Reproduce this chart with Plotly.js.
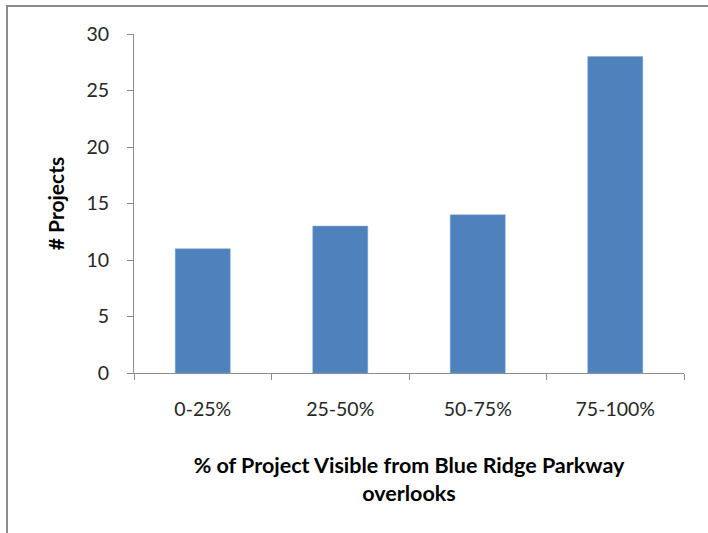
<!DOCTYPE html>
<html><head><meta charset="utf-8">
<script src="https://cdn.plot.ly/plotly-3.0.1.min.js"></script>
<style>
html,body{margin:0;padding:0;background:#fff;}
#wrap{position:relative;width:708px;height:533px;overflow:hidden;}
#chart{position:absolute;left:0;top:0;width:708px;height:533px;}
#frame{position:absolute;left:6px;top:5px;width:760px;height:600px;border-left:2px solid #8c8c8c;border-top:2px solid #8c8c8c;pointer-events:none;}
</style></head>
<body>
<div id="wrap"><div id="chart"></div><div id="frame"></div></div>
<script>
const categories = ["0-25%", "25-50%", "50-75%", "75-100%"];
const projects = [11, 13, 14, 28];
const yTicks = [0, 5, 10, 15, 20, 25, 30];
const xTitle = "% of Project Visible from Blue Ridge Parkway<br>overlooks";
const yTitle = "# Projects";

const font = "Lato, 'Open Sans', sans-serif";
Plotly.newPlot("chart", [{
  type: "bar",
  x: categories,
  y: projects,
  marker: {color: "#4f81bd", line: {color: "#7fa5d6", width: 0.5}},
  hoverinfo: "skip"
}], {
  width: 708, height: 533,
  margin: {l: 134, r: 24, t: 34, b: 160},
  paper_bgcolor: "#fff", plot_bgcolor: "#fff",
  bargap: 0.6,
  showlegend: false,
  font: {family: font, color: "#262626", size: 16},
  xaxis: {
    type: "category",
    tickson: "boundaries",
    ticks: "outside", ticklen: 6, tickcolor: "#8c8c8c",
    showline: true, linecolor: "#8c8c8c", linewidth: 1,
    showgrid: false, zeroline: false,
    ticklabelstandoff: 19,
    tickfont: {family: font, size: 19.5, color: "#262626"},
    title: {text: xTitle, standoff: 38, font: {family: font, size: 21.5, color: "#000", weight: "bold"}}
  },
  yaxis: {
    range: [0, 30],
    tickvals: yTicks,
    ticks: "outside", ticklen: 6, tickcolor: "#8c8c8c",
    showline: true, linecolor: "#8c8c8c", linewidth: 1,
    showgrid: false, zeroline: false,
    ticklabelstandoff: 14,
    tickfont: {family: font, size: 19.5, color: "#262626"},
    title: {text: yTitle, standoff: 16, font: {family: font, size: 21, color: "#000", weight: "bold"}}
  }
}, {staticPlot: true});
</script>
</body></html>
